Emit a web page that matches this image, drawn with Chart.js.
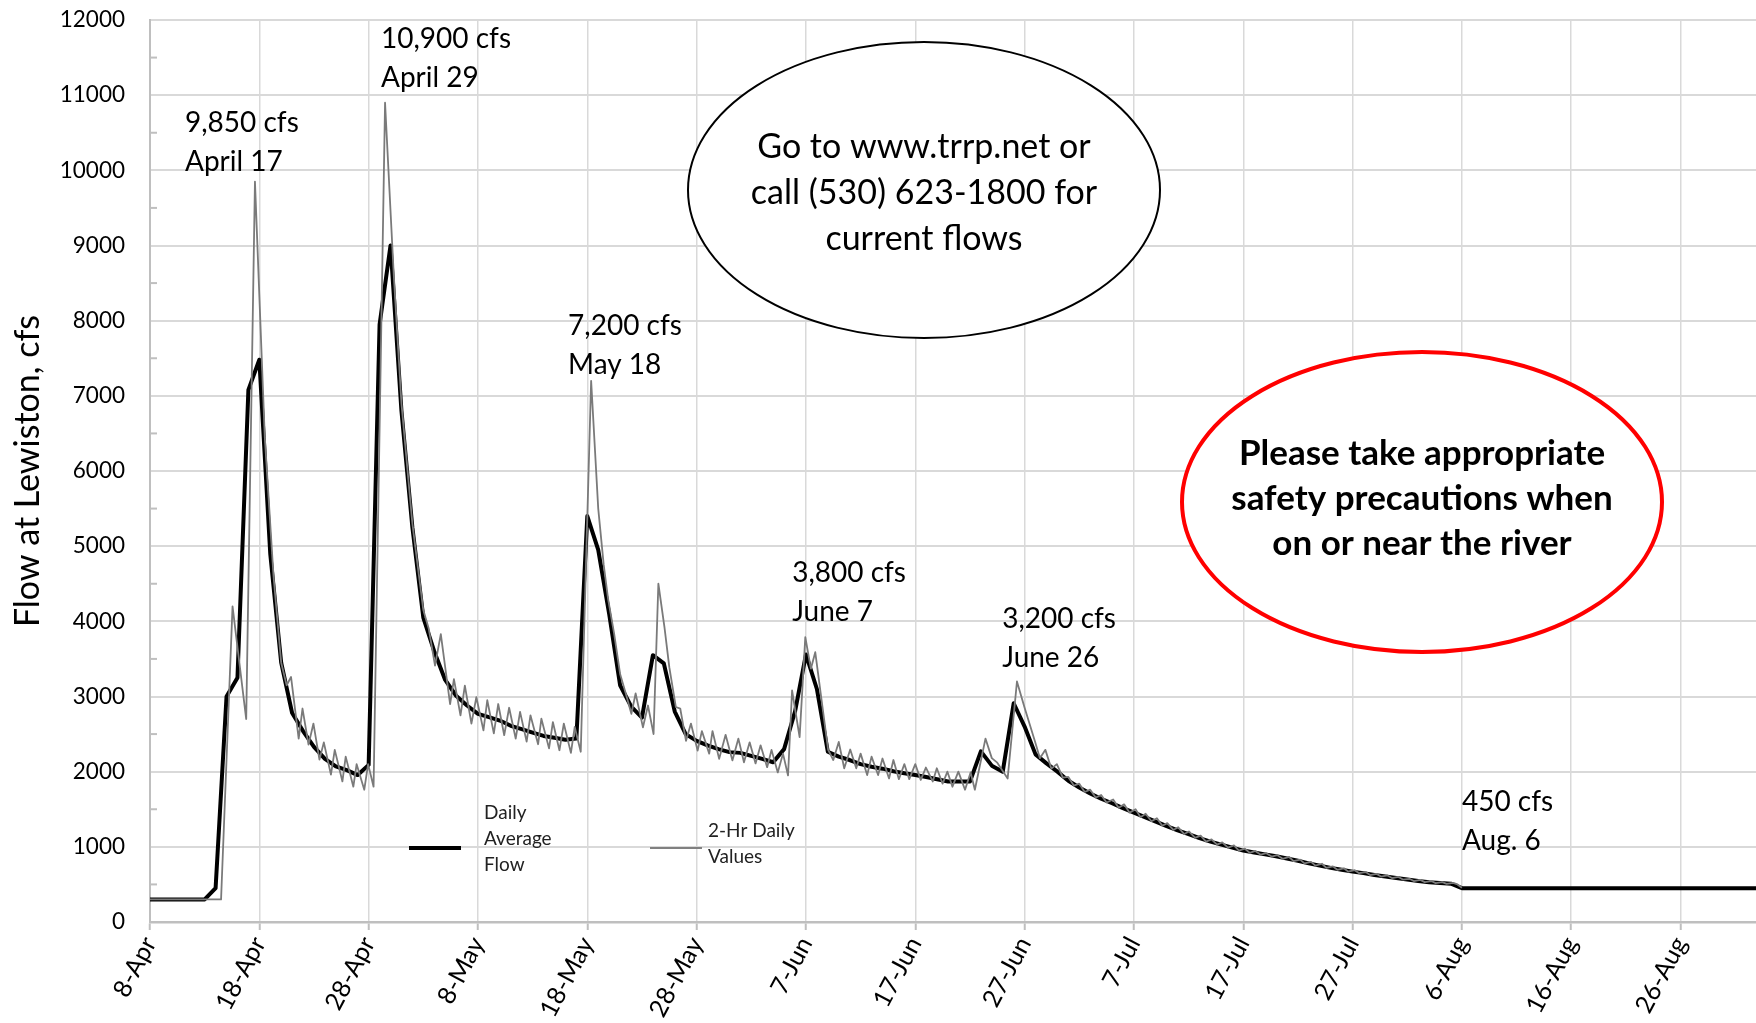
<!DOCTYPE html>
<html><head><meta charset="utf-8">
<script src="https://cdn.jsdelivr.net/npm/chart.js@4.4.1/dist/chart.umd.min.js"></script>
<style>html,body{margin:0;padding:0;background:#fff;overflow:hidden}canvas{display:block}</style>
</head><body>
<canvas id="c" width="1756" height="1023"></canvas>
<script>
// x values are days counted from 8-Apr
const tickLabels = ['8-Apr','18-Apr','28-Apr','8-May','18-May','28-May','7-Jun','17-Jun','27-Jun','7-Jul','17-Jul','27-Jul','6-Aug','16-Aug','26-Aug'];
const seriesNames = ['Daily Average Flow', '2-Hr Daily Values'];
const yAxisTitle = 'Flow at Lewiston, cfs';

const dailyAverageFlow = [
[0,300],[1,300],[2,300],[3,300],[4,300],[5,300],[6,450],[7,3000],[8,3250],[9,7080],
[10,7480],[11,4900],[12,3450],[13,2780],[14,2540],[15,2330],[16,2170],[17,2070],[18,2020],[19,1955],
[20,2090],[21,7950],[22,9000],[23,6800],[24,5250],[25,4050],[26,3600],[27,3220],[28,3010],[29,2880],
[30,2770],[31,2725],[32,2680],[33,2610],[34,2565],[35,2520],[36,2475],[37,2450],[38,2425],[39,2440],
[40,5400],[41,4950],[42,4100],[43,3150],[44,2870],[45,2720],[46,3550],[47,3440],[48,2800],[49,2500],
[50,2410],[51,2350],[52,2300],[53,2260],[54,2250],[55,2210],[56,2170],[57,2125],[58,2300],[59,2800],
[60,3560],[61,3100],[62,2265],[63,2200],[64,2155],[65,2100],[66,2065],[67,2040],[68,2005],[69,1980],
[70,1955],[71,1930],[72,1900],[73,1870],[74,1870],[75,1868],[76,2270],[77,2080],[78,2000],[79,2910],
[80,2600],[81,2230],[82,2110],[83,2000],[84,1880],[85,1790],[86,1710],[87,1640],[88,1580],[89,1515],
[90,1455],[91,1395],[92,1335],[93,1275],[94,1220],[95,1170],[96,1115],[97,1070],[98,1030],[99,990],
[100,950],[101,925],[102,900],[103,875],[104,845],[105,815],[106,780],[107,750],[108,720],[109,695],
[110,670],[111,650],[112,625],[113,605],[114,585],[115,565],[116,545],[117,530],[118,520],[119,510],
[120,450],[150,450]
];

const twoHourValues = [
[0,300],[6.5,300],[7.55,4200],[8.8,2700],[9.6,9850],[10.5,6450],[11.3,4600],[12.0,3450],[12.5,3150],[12.9,3260],
[13.6,2440],[13.95,2840],[14.5,2360],[14.95,2640],[15.5,2160],[15.9,2390],[16.55,1960],[16.9,2290],[17.6,1870],[17.9,2200],
[18.6,1800],[18.9,2100],[19.6,1760],[19.95,2100],[20.45,1800],[21.5,10900],[22.3,8600],[23.0,6900],[24.0,5300],[25.0,4150],
[25.5,3900],[26.07,3410],[26.6,3830],[27.45,2900],[27.8,3230],[28.4,2750],[28.8,3145],[29.4,2640],[29.85,2990],[30.5,2550],
[30.85,2950],[31.45,2510],[31.85,2900],[32.4,2485],[32.85,2850],[33.45,2440],[33.85,2795],[34.45,2400],[34.8,2750],[35.5,2365],
[35.8,2705],[36.5,2310],[36.85,2660],[37.45,2285],[37.85,2640],[38.5,2250],[38.85,2595],[39.4,2265],[40.35,7200],[41.0,5500],
[41.5,4750],[41.9,4300],[42.45,3840],[43.0,3300],[43.5,3050],[44.03,2770],[44.42,3040],[45.09,2590],[45.55,2880],[46.06,2500],
[46.5,4500],[47.06,3920],[47.5,3390],[48.1,2860],[48.5,2840],[49.03,2410],[49.48,2640],[50.09,2280],[50.48,2540],[51.15,2240],
[51.45,2540],[52.06,2170],[52.65,2490],[53.27,2150],[53.82,2440],[54.33,2125],[54.85,2390],[55.39,2110],[55.85,2350],[56.45,2060],
[56.85,2290],[57.42,1990],[57.9,2240],[58.36,1950],[58.73,3080],[59.42,2460],[59.94,3790],[60.45,3370],[60.85,3590],[62.03,2290],
[62.5,2155],[63.0,2395],[63.5,2045],[64.05,2295],[64.6,2045],[65.0,2240],[65.6,1955],[66.0,2200],[66.6,1955],[67.0,2175],
[67.6,1910],[68.0,2155],[68.5,1900],[69.0,2100],[69.45,1900],[70.0,2100],[70.5,1890],[70.97,2055],[71.6,1870],[71.97,2045],
[72.5,1840],[72.94,2000],[73.4,1800],[73.94,2000],[74.55,1760],[75.06,1990],[75.45,1760],[76.42,2440],[77.0,2180],[77.5,2120],
[78.45,1910],[79.3,3200],[80.0,2850],[80.95,2400],[81.4,2180],[81.9,2290],[82.45,2040],[82.95,2100],[83.5,1920],[84.0,1930],
[84.5,1815],[85.0,1840],[85.5,1730],[86.0,1760],[86.5,1655],[87.0,1690],[87.5,1590],[88.1,1630],[88.6,1520],[89.1,1565],
[89.6,1455],[90.15,1500],[90.6,1395],[91.07,1440],[91.6,1340],[92.1,1380],[92.6,1280],[93.05,1315],[93.6,1225],[94.05,1260],
[94.6,1170],[95.03,1205],[95.6,1120],[96.1,1150],[96.6,1070],[97.1,1100],[97.6,1030],[98.08,1060],[98.6,990],[99.15,1020],
[99.6,950],[100.15,975],[100.6,920],[101.1,945],[101.6,895],[102.1,915],[102.6,870],[103.1,890],[103.6,840],[104.2,865],
[104.6,810],[105.2,830],[105.6,780],[106.2,800],[106.6,750],[107.2,775],[107.6,720],[108.2,740],[108.6,695],[109.2,715],
[109.6,670],[110.2,690],[110.6,650],[111.2,665],[111.6,625],[112.2,640],[112.6,605],[113.2,620],[113.6,585],[114.2,600],
[114.6,565],[115.2,575],[115.6,545],[116.2,560],[116.6,530],[117.2,545],[117.6,518],[118.2,530],[118.6,508],[119.2,520],
[119.6,500],[120.0,455]
];

const peakLabels = [['9,850 cfs','April 17'],['10,900 cfs','April 29'],['7,200 cfs','May 18'],['3,800 cfs','June 7'],['3,200 cfs','June 26'],['450 cfs','Aug. 6']];
const peakLabelAnchors = [[3.2,10630],[21.13,11750],[38.24,7930],[58.74,4640],[77.95,4030],[120.0,1595]];
const infoText = ['Go to www.trrp.net or','call (530) 623-1800 for','current flows'];
const safetyText = ['Please take appropriate','safety precautions when','on or near the river'];
const legendLines = [['Daily','Average','Flow'],['2-Hr Daily','Values']];

Chart.defaults.font.family = "Lato, 'Open Sans', sans-serif";
Chart.defaults.color = '#000';

function drawCallout(ctx, cx, cy, rx, ry, stroke, lw, lines, font, lh, dy) {
  ctx.beginPath();
  ctx.ellipse(cx, cy, rx, ry, 0, 0, Math.PI * 2);
  ctx.fillStyle = '#fff';
  ctx.fill();
  ctx.lineWidth = lw;
  ctx.strokeStyle = stroke;
  ctx.stroke();
  ctx.fillStyle = '#000';
  ctx.font = font;
  ctx.textAlign = 'center';
  ctx.textBaseline = 'middle';
  const n = lines.length;
  lines.forEach((t, i) => ctx.fillText(t, cx, cy + dy + (i - (n - 1) / 2) * lh));
}

const overlay = {
  id: 'overlay',
  afterDraw(chart) {
    const ctx = chart.ctx, xs = chart.scales.x, ys = chart.scales.y, area = chart.chartArea;
    ctx.save();
    // minor tick marks on the value axis
    ctx.strokeStyle = '#bfbfbf';
    ctx.lineWidth = 2;
    for (let i = 0; i < ys.ticks.length - 1; i++) {
      const mid = (ys.ticks[i].value + ys.ticks[i + 1].value) / 2;
      const py = ys.getPixelForValue(mid);
      ctx.beginPath(); ctx.moveTo(area.left, py); ctx.lineTo(area.left + 7, py); ctx.stroke();
    }
    // peak annotations
    ctx.fillStyle = '#000';
    ctx.font = "28px Lato, 'Open Sans', sans-serif";
    ctx.textAlign = 'left';
    ctx.textBaseline = 'middle';
    peakLabels.forEach((lines, i) => {
      const px = xs.getPixelForValue(peakLabelAnchors[i][0]);
      const py = ys.getPixelForValue(peakLabelAnchors[i][1]);
      lines.forEach((t, j) => ctx.fillText(t, px, py + j * 39));
    });
    // callouts
    drawCallout(ctx, 924, 190, 236, 148, '#000', 2, infoText, "34px Lato, 'Open Sans', sans-serif", 46, 3);
    drawCallout(ctx, 1422, 502, 240, 150, '#ff0000', 4, safetyText, "bold 35px Lato, 'Open Sans', sans-serif", 45, -3);
    // legend
    ctx.lineCap = 'butt';
    ctx.strokeStyle = '#000'; ctx.lineWidth = 4;
    ctx.beginPath(); ctx.moveTo(409, 848); ctx.lineTo(461, 848); ctx.stroke();
    ctx.strokeStyle = '#808080'; ctx.lineWidth = 2;
    ctx.beginPath(); ctx.moveTo(650, 848); ctx.lineTo(702, 848); ctx.stroke();
    ctx.fillStyle = '#222';
    ctx.font = "19px Lato, 'Open Sans', sans-serif";
    ctx.textAlign = 'left';
    legendLines[0].forEach((t, i) => ctx.fillText(t, 484, 813 + i * 26));
    legendLines[1].forEach((t, i) => ctx.fillText(t, 708, 831 + i * 26));
    ctx.restore();
  }
};

function draw() {
  new Chart(document.getElementById('c'), {
    type: 'line',
    data: {
      datasets: [
        { label: seriesNames[1], data: twoHourValues.map(p => ({x: p[0], y: p[1]})),
          borderColor: '#7a7a7a', borderWidth: 1.8, pointRadius: 0, tension: 0, borderJoinStyle: 'round' },
        { label: seriesNames[0], data: dailyAverageFlow.map(p => ({x: p[0], y: p[1]})),
          borderColor: '#000', borderWidth: 4, pointRadius: 0, tension: 0, borderJoinStyle: 'round' }
      ]
    },
    options: {
      responsive: false, animation: false, events: [],
      layout: { padding: { top: 20, right: 0, bottom: 0, left: 0 } },
      plugins: { legend: { display: false }, tooltip: { enabled: false } },
      scales: {
        x: {
          type: 'linear', min: 0, max: 146.9,
          afterFit(s) { s.height = 101; },
          ticks: { stepSize: 10, includeBounds: false, autoSkip: false, minRotation: 62, maxRotation: 62,
                   padding: 2, color: '#000', font: { size: 25 },
                   callback: v => tickLabels[Math.round(v / 10)] },
          grid: { color: '#d9d9d9', lineWidth: 1.5, drawTicks: true, tickLength: 8, tickColor: '#bfbfbf', tickWidth: 2 },
          border: { display: true, color: '#bfbfbf', width: 2.5 }
        },
        y: {
          min: 0, max: 12000,
          afterFit(s) { s.width = 150; },
          ticks: { stepSize: 1000, padding: 0, color: '#000', font: { size: 22.5 }, callback: v => String(v) },
          grid: { color: '#d9d9d9', lineWidth: 2, drawTicks: true, tickLength: 25, tickColor: 'rgba(0,0,0,0)' },
          border: { display: true, color: '#bfbfbf', width: 2 },
          title: { display: true, text: yAxisTitle, color: '#000', font: { size: 34 }, padding: { top: 8, bottom: 0 } }
        }
      }
    },
    plugins: [overlay]
  });
}
if (document.fonts && document.fonts.load) {
  Promise.all([document.fonts.load("22px Lato"), document.fonts.load("bold 32px Lato")]).then(draw, draw);
} else { draw(); }
</script>
</body></html>
